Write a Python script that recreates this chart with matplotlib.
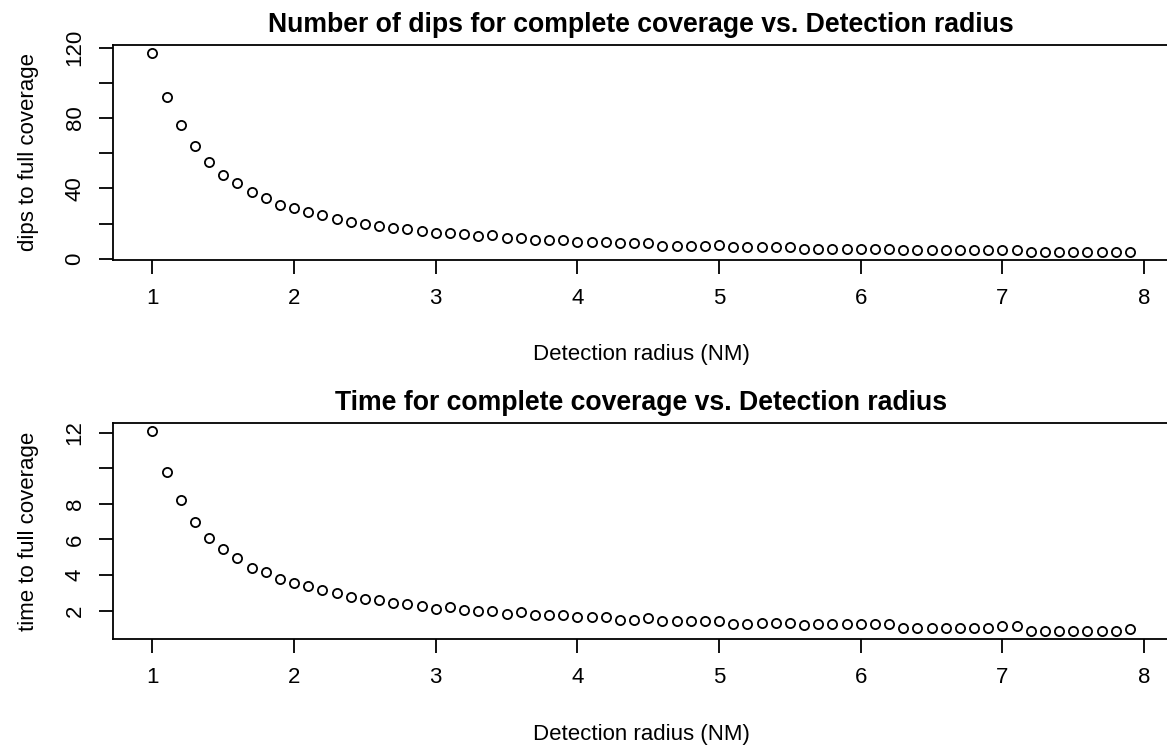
#!/usr/bin/env python

import matplotlib
matplotlib.use("Agg")
import matplotlib.pyplot as plt

plt.rcParams["font.family"] = ["Liberation Sans", "DejaVu Sans"]

# detection radius (NM), 1.0 .. 7.9
radius = [1.0, 1.1, 1.2, 1.3, 1.4, 1.5, 1.6, 1.7, 1.8, 1.9,
          2.0, 2.1, 2.2, 2.3, 2.4, 2.5, 2.6, 2.7, 2.8, 2.9,
          3.0, 3.1, 3.2, 3.3, 3.4, 3.5, 3.6, 3.7, 3.8, 3.9,
          4.0, 4.1, 4.2, 4.3, 4.4, 4.5, 4.6, 4.7, 4.8, 4.9,
          5.0, 5.1, 5.2, 5.3, 5.4, 5.5, 5.6, 5.7, 5.8, 5.9,
          6.0, 6.1, 6.2, 6.3, 6.4, 6.5, 6.6, 6.7, 6.8, 6.9,
          7.0, 7.1, 7.2, 7.3, 7.4, 7.5, 7.6, 7.7, 7.8, 7.9]

# dips to full coverage
dips = [117, 92, 76, 64, 55, 47.5, 43, 38, 34.5, 30.5,
        29, 26.5, 25, 22.5, 21, 19.5, 18.5, 17.5, 17, 15.5,
        14.5, 14.5, 14, 13, 13.5, 11.5, 11.5, 10.5, 10.5, 10.5,
        9.7, 9.7, 9.7, 9, 9, 9.2, 7.2, 7.2, 7.2, 7.2,
        7.6, 6.4, 6.4, 6.4, 6.4, 6.4, 5.7, 5.7, 5.7, 5.7,
        5.7, 5.7, 5.7, 4.9, 4.9, 4.9, 4.9, 4.9, 4.9, 4.9,
        4.9, 4.9, 3.8, 3.8, 3.8, 3.8, 3.8, 3.8, 3.8, 3.8]

# time to full coverage
times = [12.1, 9.8, 8.2, 7.0, 6.1, 5.45, 4.95, 4.4, 4.2, 3.8,
         3.55, 3.4, 3.15, 3.0, 2.75, 2.68, 2.6, 2.43, 2.36, 2.29,
         2.12, 2.21, 2.04, 2.0, 2.0, 1.79, 1.92, 1.74, 1.74, 1.74,
         1.64, 1.64, 1.64, 1.49, 1.49, 1.58, 1.4, 1.4, 1.4, 1.4,
         1.42, 1.27, 1.27, 1.34, 1.34, 1.34, 1.2, 1.23, 1.23, 1.23,
         1.23, 1.23, 1.23, 1.04, 1.04, 1.04, 1.04, 1.04, 1.04, 1.04,
         1.15, 1.15, 0.85, 0.85, 0.85, 0.85, 0.85, 0.85, 0.85, 0.96]

xticks = [1, 2, 3, 4, 5, 6, 7, 8]
dips_ticks = [0, 20, 40, 60, 80, 100, 120]
dips_labels = ["0", "", "40", "", "80", "", "120"]
time_ticks = [2, 4, 6, 8, 10, 12]
time_labels = ["2", "4", "6", "8", "", "12"]


def rlim(vals):
    # R style 4% padding
    lo, hi = min(vals), max(vals)
    d = (hi - lo) * 0.04
    return lo - d, hi + d


def panel(ax, y, title, ylabel, yt, ytl):
    ax.plot(radius, y, "o", ms=6.6, mfc="none", mec="black", mew=1.3)
    ax.set_xlim(rlim(radius))
    ax.set_ylim(rlim(y))
    ax.set_xticks(xticks)
    ax.set_yticks(yt)
    ax.set_yticklabels(ytl, rotation=90, va="center")
    ax.tick_params(direction="out", length=10, width=1.3, labelsize=16,
                   pad=10)
    for s in ax.spines.values():
        s.set_linewidth(1.3)
    ax.set_title(title, fontsize=19.2, fontweight="bold", pad=9)
    ax.set_xlabel("Detection radius (NM)", fontsize=16)
    ax.xaxis.set_label_coords(0.5, -0.44)
    ax.xaxis.label.set_va("center")
    ax.set_ylabel(ylabel, fontsize=16)
    ax.yaxis.set_label_coords(-85 / 1056, 0.5)
    ax.yaxis.label.set_va("center")


fig = plt.figure(figsize=(11.67, 7.52), dpi=100)
ax1 = fig.add_axes([0.0971, 0.6543, 0.9046, 0.2859])
ax2 = fig.add_axes([0.0971, 0.1499, 0.9046, 0.2880])

panel(ax1, dips, "Number of dips for complete coverage vs. Detection radius",
      "dips to full coverage", dips_ticks, dips_labels)
panel(ax2, times, "Time for complete coverage vs. Detection radius",
      "time to full coverage", time_ticks, time_labels)

fig.savefig("out.png", dpi=100)
